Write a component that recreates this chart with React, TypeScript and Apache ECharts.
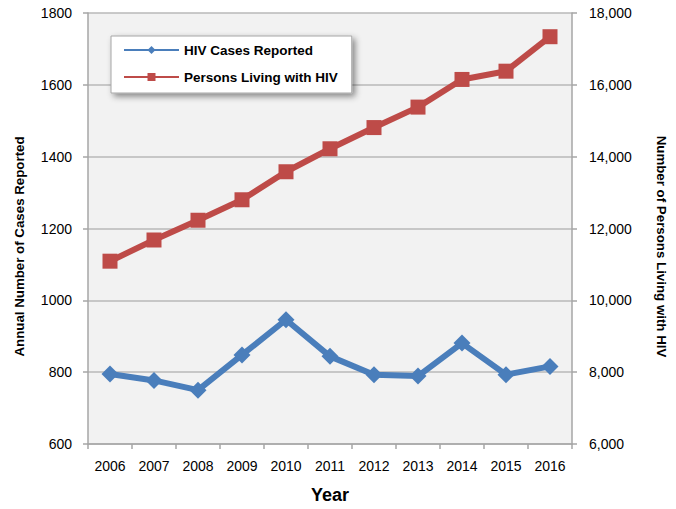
import React, { useEffect, useRef } from "react";
import * as echarts from "echarts";

const years = ["2006", "2007", "2008", "2009", "2010", "2011", "2012", "2013", "2014", "2015", "2016"];
const hivCases = [795, 777, 750, 848, 946, 844, 793, 789, 881, 793, 816];
const personsLiving = [11090, 11680, 12230, 12800, 13580, 14220, 14810, 15380, 16150, 16380, 17340];

const FONT = "'Liberation Sans', Arial, sans-serif";
const AXIS_GRAY = "#a6a6a6";

export default function App() {
  const ref = useRef<HTMLDivElement>(null);
  useEffect(() => {
    const chart = echarts.init(ref.current!, null, { renderer: "svg" });
    chart.setOption({
      animation: false,
      backgroundColor: "#ffffff",
      textStyle: { fontFamily: FONT },
      grid: {
        left: 88,
        right: 85,
        top: 13,
        bottom: 58,
        show: true,
        backgroundColor: "#f2f2f2",
        borderWidth: 0,
      },
      legend: {
        orient: "vertical",
        left: 111,
        top: 36,
        padding: [7, 14, 9, 12],
        itemGap: 13,
        itemWidth: 55,
        itemHeight: 10,
        backgroundColor: "#ffffff",
        borderColor: "#a6a6a6",
        borderWidth: 1,
        shadowBlur: 6,
        shadowColor: "rgba(0,0,0,0.45)",
        shadowOffsetX: 3,
        shadowOffsetY: 3,
        textStyle: { fontFamily: FONT, fontWeight: "bold", fontSize: 13.5, color: "#000" },
        data: ["HIV Cases Reported", "Persons Living with HIV"],
      },
      xAxis: {
        type: "category",
        data: years,
        boundaryGap: true,
        name: "Year",
        nameLocation: "middle",
        nameGap: 42,
        nameTextStyle: { fontFamily: FONT, fontWeight: "bold", fontSize: 18, color: "#000" },
        axisLine: { lineStyle: { color: AXIS_GRAY, width: 1.5 } },
        axisTick: { show: true, interval: 0, length: 5, lineStyle: { color: AXIS_GRAY, width: 1.5 } },
        axisLabel: { interval: 0, margin: 15, fontFamily: FONT, fontSize: 14, color: "#000" },
      },
      yAxis: [
        {
          type: "value",
          min: 600,
          max: 1800,
          interval: 200,
          name: "Annual Number of Cases Reported",
          nameLocation: "middle",
          nameGap: 62,
          nameTextStyle: {
            fontFamily: FONT,
            fontWeight: "bold",
            fontSize: 13.3,
            color: "#000",
            padding: [0, 36, 0, 0],
          },
          axisLine: { show: true, lineStyle: { color: AXIS_GRAY, width: 1.5 } },
          axisTick: { show: true, length: 5, lineStyle: { color: AXIS_GRAY, width: 1.5 } },
          axisLabel: {
            margin: 16,
            fontFamily: FONT,
            fontSize: 14,
            color: "#000",
            formatter: (v: number) => String(v),
          },
          splitLine: { show: true, lineStyle: { color: "#b8b8b8", width: 1.5 } },
        },
        {
          type: "value",
          min: 6000,
          max: 18000,
          interval: 2000,
          name: "Number of Persons Living with HIV",
          nameLocation: "middle",
          nameRotate: -90,
          nameGap: 83,
          nameTextStyle: {
            fontFamily: FONT,
            fontWeight: "bold",
            fontSize: 13.3,
            color: "#000",
            padding: [0, 0, 0, 36],
          },
          axisLine: { show: true, lineStyle: { color: AXIS_GRAY, width: 1.5 } },
          axisTick: { show: true, length: 5, lineStyle: { color: AXIS_GRAY, width: 1.5 } },
          axisLabel: {
            margin: 17,
            fontFamily: FONT,
            fontSize: 14,
            color: "#000",
            formatter: (v: number) => v.toLocaleString("en-US"),
          },
          splitLine: { show: false },
        },
      ],
      series: [
        {
          name: "HIV Cases Reported",
          type: "line",
          yAxisIndex: 0,
          data: hivCases,
          symbol: "diamond",
          symbolSize: 17,
          lineStyle: { color: "#4a7ebb", width: 6 },
          itemStyle: { color: "#4a7ebb" },
          z: 3,
        },
        {
          name: "Persons Living with HIV",
          type: "line",
          yAxisIndex: 1,
          data: personsLiving,
          symbol: "rect",
          symbolSize: 15,
          lineStyle: { color: "#be4b48", width: 6 },
          itemStyle: { color: "#be4b48" },
          z: 2,
        },
      ],
    });
    return () => chart.dispose();
  }, []);
  return (
    <>
      <style>{"html,body{margin:0;padding:0;overflow:hidden;}"}</style>
      <div ref={ref} style={{ width: 676, height: 509 }} />
    </>
  );
}
